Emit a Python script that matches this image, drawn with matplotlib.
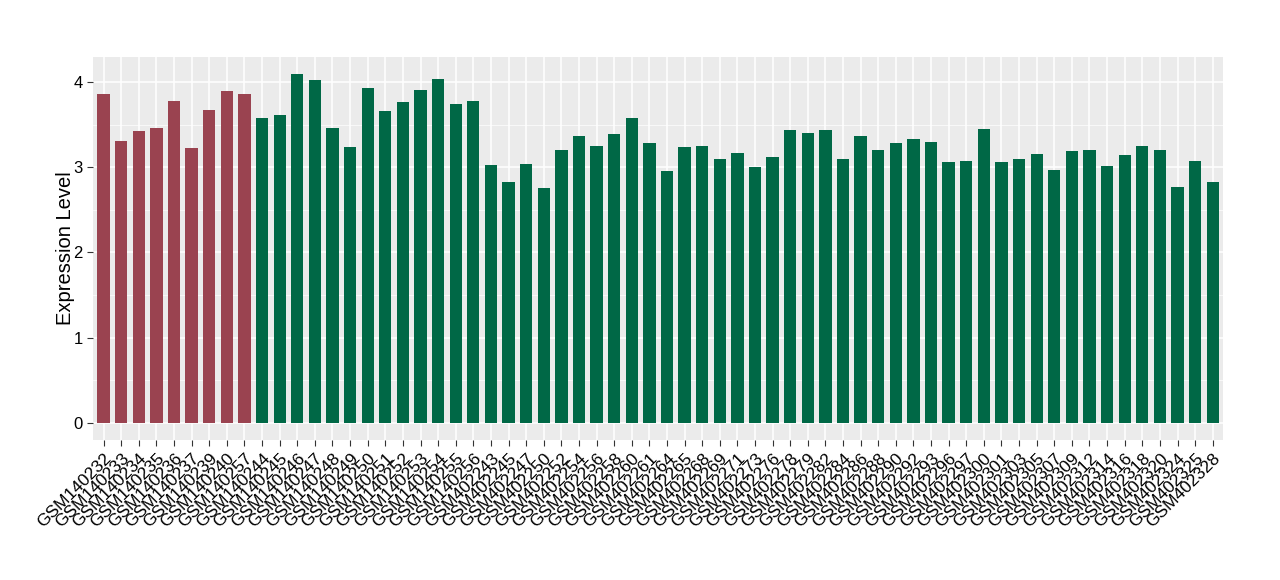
import matplotlib
matplotlib.use("Agg")
import matplotlib.pyplot as plt
import numpy as np

plt.rcParams["font.family"] = ["Liberation Sans", "DejaVu Sans"]

samples_a = ["GSM140232", "GSM140233", "GSM140234", "GSM140235", "GSM140236",
             "GSM140237", "GSM140239", "GSM140240", "GSM140257"]
values_a = [3.86, 3.31, 3.43, 3.46, 3.78, 3.23, 3.67, 3.89, 3.86]

samples_b = ["GSM140244", "GSM140245", "GSM140246", "GSM140247", "GSM140248",
             "GSM140249", "GSM140250", "GSM140251", "GSM140252", "GSM140253",
             "GSM140254", "GSM140255", "GSM140256",
             "GSM402243", "GSM402245", "GSM402247", "GSM402250", "GSM402252",
             "GSM402254", "GSM402256", "GSM402258", "GSM402260", "GSM402261",
             "GSM402264", "GSM402265", "GSM402268", "GSM402269", "GSM402271",
             "GSM402273", "GSM402276", "GSM402278", "GSM402279", "GSM402282",
             "GSM402284", "GSM402286", "GSM402288", "GSM402290", "GSM402292",
             "GSM402293", "GSM402296", "GSM402297", "GSM402300", "GSM402301",
             "GSM402303", "GSM402305", "GSM402307", "GSM402309", "GSM402312",
             "GSM402314", "GSM402316", "GSM402318", "GSM402320", "GSM402324",
             "GSM402325", "GSM402328"]
values_b = [3.58, 3.61, 4.09, 4.02, 3.46, 3.24, 3.93, 3.66, 3.77, 3.91,
            4.04, 3.74, 3.78,
            3.03, 2.83, 3.04, 2.76, 3.20, 3.37, 3.25, 3.39, 3.58, 3.28,
            2.96, 3.24, 3.25, 3.09, 3.17, 3.00, 3.12, 3.44, 3.40, 3.44,
            3.09, 3.36, 3.20, 3.28, 3.33, 3.30, 3.06, 3.07, 3.45, 3.06,
            3.10, 3.16, 2.97, 3.19, 3.20, 3.01, 3.14, 3.25, 3.20, 2.77,
            3.07, 2.83]

color_a = "#9A4350"
color_b = "#006846"

labels = samples_a + samples_b
values = values_a + values_b
colors = [color_a] * len(samples_a) + [color_b] * len(samples_b)
x = np.arange(len(labels))

fig = plt.figure(figsize=(12.8, 5.8), dpi=100)
ax = fig.add_axes([0.0727, 0.241, 0.883, 0.661])
ax.set_facecolor("#EBEBEB")

ax.bar(x, values, width=0.7, color=colors, zorder=3)

ax.set_xlim(-0.6, len(labels) - 0.4)
ax.set_ylim(-0.2045, 4.2945)
ax.set_yticks([0, 1, 2, 3, 4])
ax.set_yticks([0.5, 1.5, 2.5, 3.5], minor=True)
ax.set_xticks(x)
ax.set_xticklabels(labels, rotation=45, ha="right", rotation_mode="anchor",
                   fontsize=12.5, color="black")
ax.tick_params(axis="y", labelsize=12, labelcolor="black")
ax.tick_params(axis="both", which="major", length=4, color="#333333", width=0.8)
ax.tick_params(axis="both", which="minor", length=0)

ax.grid(True, which="major", color="white", linewidth=1.1, zorder=0)
ax.grid(True, which="minor", axis="y", color="white", linewidth=0.5, zorder=0)
ax.set_axisbelow(True)
for s in ax.spines.values():
    s.set_visible(False)

ax.set_ylabel("Expression Level", fontsize=14.5, labelpad=-1)

fig.savefig("out.png", dpi=100)
